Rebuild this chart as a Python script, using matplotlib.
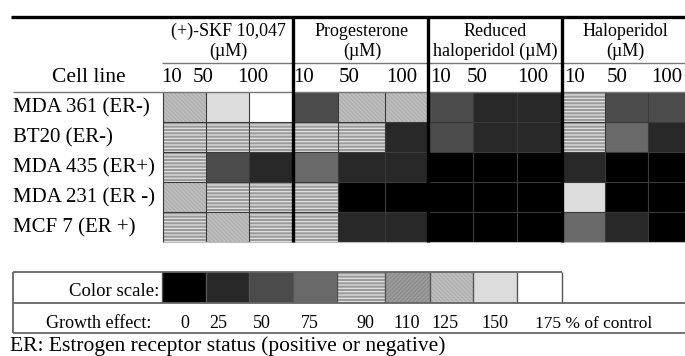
import matplotlib
matplotlib.use("Agg")
import matplotlib.pyplot as plt
from matplotlib.patches import Rectangle

plt.rcParams['font.family'] = ['Liberation Serif', 'DejaVu Serif']
plt.rcParams['hatch.linewidth'] = 0.9

cell_lines = ["MDA 361 (ER-)", "BT20 (ER-)", "MDA 435 (ER+)", "MDA 231 (ER -)", "MCF 7 (ER +)"]
drugs = ["(+)-SKF 10,047\n(µM)", "Progesterone\n(µM)", "Reduced\nhaloperidol (µM)", "Haloperidol\n(µM)"]
doses = ["10", "50", "100"]

# growth effect (% of control) per cell line, 4 drugs x 3 doses
growth = [
    [125, 150, 175, 50, 125, 125, 50, 25, 25, 90, 50, 50],
    [90, 90, 90, 90, 90, 25, 50, 25, 25, 90, 75, 25],
    [90, 50, 25, 75, 25, 25, 0, 0, 0, 25, 0, 0],
    [125, 90, 90, 90, 0, 0, 0, 0, 0, 150, 0, 0],
    [90, 125, 90, 90, 25, 25, 0, 0, 0, 75, 25, 0],
]
scale_values = [0, 25, 50, 75, 90, 110, 125, 150, 175]

# value -> (face, hatch, hatch colour)
style = {
    0: ("#000000", None, "#000000"),
    25: ("#282828", None, "#282828"),
    50: ("#4b4b4b", None, "#4b4b4b"),
    75: ("#696969", None, "#696969"),
    90: ("#9a9a9a", "-----", "#e2e2e2"),
    110: ("#8c8c8c", "////////", "#a0a0a0"),
    125: ("#b0b0b0", "\\\\\\\\\\\\\\\\", "#c2c2c2"),
    150: ("#dcdcdc", None, "#dcdcdc"),
    175: ("#ffffff", None, "#ffffff"),
}

# layout (pixel units)
x_edges = [163, 206, 249, 293, 338, 385, 428, 473, 517, 562, 605, 648, 692]
y_top = 92
row_h = 30
label_centres = [172, 203, 253, 304, 349, 402, 441, 477, 533, 575, 617, 667]
drug_centres = [228, 362, 495, 625]

fig = plt.figure(figsize=(6.85, 3.56), dpi=100)
ax = fig.add_axes([0, 0, 1, 1])
ax.set_xlim(0, 685)
ax.set_ylim(356, 0)
ax.axis("off")


def cell(x0, x1, y0, y1, v):
    face, hatch, hc = style[v]
    ax.add_patch(Rectangle((x0, y0), x1 - x0, y1 - y0, facecolor=face,
                           edgecolor=hc, hatch=hatch, lw=0))


# table cells
for r, row in enumerate(growth):
    y0 = y_top + r * row_h
    for c, v in enumerate(row):
        cell(x_edges[c], x_edges[c + 1], y0, y0 + row_h, v)
    ax.text(13, y0 + row_h / 2 + 1, cell_lines[r], fontsize=15, va="center", ha="left")

y_bot = y_top + len(growth) * row_h
ax.vlines(x_edges, y_top, y_bot, color="#3a3a3a", lw=0.8)
ax.hlines([y_top + i * row_h for i in range(1, len(growth))], x_edges[0], 685, color="#3a3a3a", lw=0.8)
ax.hlines(y_bot, x_edges[0], 685, color="#bbbbbb", lw=0.8)

# header
ax.hlines(17, 11, 685, color="black", lw=2.4)
ax.hlines(63, 162, 685, color="#777777", lw=1.0)
ax.hlines(92, 13, 685, color="#777777", lw=1.0)
ax.vlines([293, 428, 562], 17, y_bot, color="black", lw=2.4)
for d, name in enumerate(drugs):
    top, bottom = name.split("\n")
    ax.text(drug_centres[d], 31, top, fontsize=13, ha="center", va="center")
    ax.text(drug_centres[d], 51, bottom, fontsize=13, ha="center", va="center")
ax.text(89, 78, "Cell line", fontsize=15.5, ha="center", va="center")
for i, xc in enumerate(label_centres):
    ax.text(xc, 78, doses[i % 3], fontsize=15, ha="center", va="center")

# colour scale legend
ly0, ly1, ly2 = 272, 303, 333
leg_edges = [162, 206, 249, 293, 337, 385, 430, 473, 517, 562]
for i, v in enumerate(scale_values):
    cell(leg_edges[i], leg_edges[i + 1], ly0, ly1, v)
ax.vlines(leg_edges, ly0, ly1, color="#555555", lw=1.0)
ax.hlines(ly0, 13, 562, color="#666666", lw=1.3)
ax.hlines([ly1, ly2], 13, 685, color="#666666", lw=1.3)
ax.vlines(13, ly0, ly2, color="#666666", lw=1.3)
ax.text(159, 291, "Color scale:", fontsize=13.5, ha="right", va="center")
ax.text(151, 324, "Growth effect:", fontsize=13, ha="right", va="center")
num_x = [185, 218, 262, 310, 365, 407, 445, 495]
for xv, v in zip(num_x, scale_values[:-1]):
    ax.text(xv, 324, str(v), fontsize=13, ha="center", va="center")
ax.text(535, 324, f"{scale_values[-1]} % of control", fontsize=12.5, ha="left", va="center")
ax.text(10, 346, "ER: Estrogen receptor status (positive or negative)", fontsize=15.5,
        ha="left", va="center")

fig.savefig("out.png", dpi=100)
